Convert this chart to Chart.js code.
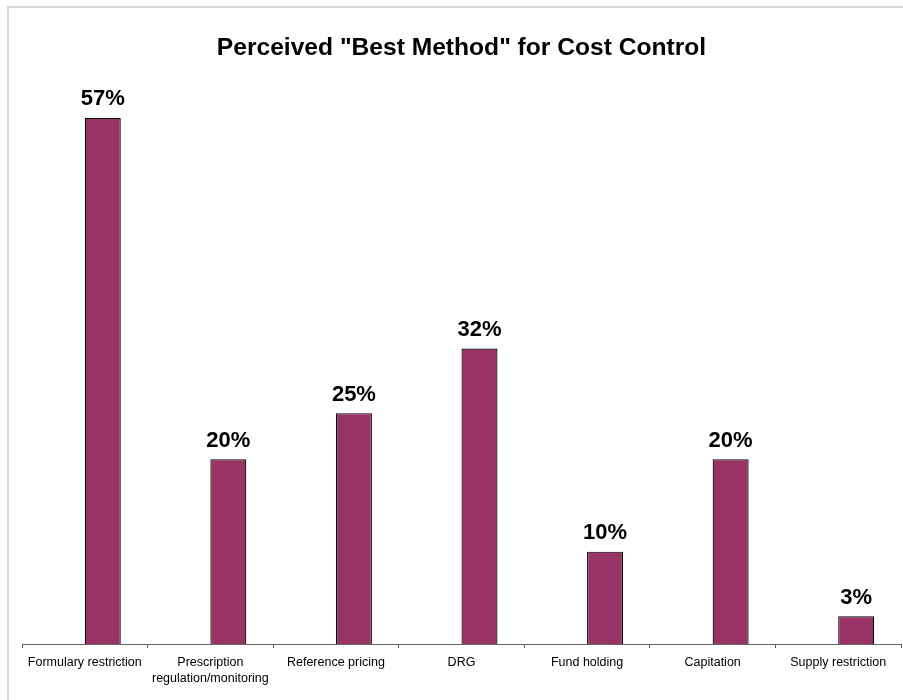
<!DOCTYPE html>
<html>
<head>
<meta charset="utf-8">
<script src="https://cdn.jsdelivr.net/npm/chart.js@4"></script>
<style>
  html, body { margin: 0; padding: 0; background: #fff; overflow: hidden; }
  #frame { position: absolute; left: 7px; top: 6px; width: 920px; height: 720px;
           border-top: 2px solid #d4d4d4; border-left: 2px solid #d4d4d4; }
  #wrap { position: absolute; left: 0; top: 0; width: 903px; height: 700px; }
</style>
</head>
<body>
<div id="frame"></div>
<div id="wrap"><canvas id="chart" width="903" height="700"></canvas></div>
<script>
const categories = [
  'Formulary restriction',
  ['Prescription', 'regulation/monitoring'],
  'Reference pricing',
  'DRG',
  'Fund holding',
  'Capitation',
  'Supply restriction'
];
const bestMethodPct = [57, 20, 25, 32, 10, 20, 3];
const emptySeries = [null, null, null, null, null, null, null];
const chartTitle = 'Perceived "Best Method" for Cost Control';

const FONT = '"Liberation Sans", Arial, Helvetica, sans-serif';

// Bold percentage labels above each bar
const valueLabels = {
  id: 'valueLabels',
  afterDatasetsDraw(chart) {
    const ctx = chart.ctx;
    const meta = chart.getDatasetMeta(1);
    ctx.save();
    ctx.font = 'bold 22px ' + FONT;
    ctx.fillStyle = '#000';
    ctx.textAlign = 'center';
    ctx.textBaseline = 'alphabetic';
    meta.data.forEach((bar, i) => {
      ctx.fillText(bestMethodPct[i] + '%', bar.x, bar.y - 12.5);
    });
    ctx.restore();
  }
};

// Title centred over the plotting area
const centredTitle = {
  id: 'centredTitle',
  afterDraw(chart) {
    const ctx = chart.ctx;
    const a = chart.chartArea;
    ctx.save();
    ctx.font = 'bold 24.6px ' + FONT;
    ctx.fillStyle = '#000';
    ctx.textAlign = 'center';
    ctx.textBaseline = 'alphabetic';
    ctx.fillText(chartTitle, (a.left + a.right) / 2, 55);
    ctx.restore();
  }
};

new Chart(document.getElementById('chart'), {
  type: 'bar',
  data: {
    labels: categories,
    datasets: [
      { label: '', data: emptySeries },
      {
        label: 'Best method',
        data: bestMethodPct,
        backgroundColor: '#993366',
        borderColor: '#000',
        borderWidth: 1.2,
        borderSkipped: 'bottom'
      }
    ]
  },
  options: {
    responsive: false,
    animation: false,
    events: [],
    datasets: { bar: { categoryPercentage: 0.573, barPercentage: 1.0 } },
    layout: { padding: { left: 22, right: 2, top: 90, bottom: 0 } },
    plugins: { legend: { display: false }, title: { display: false }, tooltip: { enabled: false } },
    scales: {
      x: {
        afterFit(scale) { scale.height = 56; },
        border: { display: true, color: '#666', width: 1 },
        grid: { offset: true, drawOnChartArea: false, drawTicks: true, tickLength: 4, color: '#555' },
        ticks: { color: '#000', font: { family: FONT, size: 12.5, lineHeight: 1.28 }, padding: 7, maxRotation: 0, autoSkip: false }
      },
      y: {
        display: false,
        min: 0,
        max: 60
      }
    }
  },
  plugins: [valueLabels, centredTitle]
});
</script>
</body>
</html>
